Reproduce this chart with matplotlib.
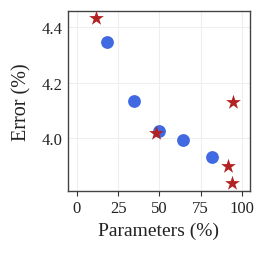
import matplotlib
matplotlib.use("Agg")
import matplotlib.pyplot as plt

# blue circles
circle_params = [18.5, 34.5, 49.6, 64.3, 81.9]
circle_error = [4.348, 4.133, 4.024, 3.993, 3.929]
# red stars
star_params = [11.7, 48.2, 94.7, 91.5, 94.1]
star_error = [4.433, 4.016, 4.130, 3.899, 3.836]

xticks = [0, 25, 50, 75, 100]
yticks = [4.0, 4.2, 4.4]

plt.rcParams['font.family'] = ['Liberation Serif', 'DejaVu Serif']

fig = plt.figure(figsize=(2.66, 2.55), dpi=100)
ax = fig.add_axes([68/266, 1 - 192/255, 182/266, 180/255])

ax.grid(True, color='#eeeeee', linewidth=0.8, zorder=0)
ax.set_axisbelow(True)
ax.scatter(circle_params, circle_error, s=85, color='#4169E1', marker='o',
           linewidths=0, zorder=3)
ax.scatter(star_params, star_error, s=125, color='#B22222', marker='*',
           linewidths=0, zorder=4)

ax.set_xlim(-5.3, 104.8)
ax.set_ylim(3.807, 4.459)
ax.set_xticks(xticks)
ax.set_yticks(yticks)
ax.set_yticklabels(['4.0', '4.2', '4.4'])
ax.tick_params(axis='x', labelsize=12, length=3.5, color='#333333', pad=3,
               labelcolor='#222222')
ax.tick_params(axis='y', labelsize=12, length=0, pad=4, labelcolor='#222222')
for s in ax.spines.values():
    s.set_color('#444444')
    s.set_linewidth(1.0)

ax.set_xlabel('Parameters (%)', fontsize=14, color='#222222', labelpad=4)
ax.set_ylabel('Error (%)', fontsize=14.5, color='#222222', labelpad=7)

fig.savefig('out.png', dpi=100)
